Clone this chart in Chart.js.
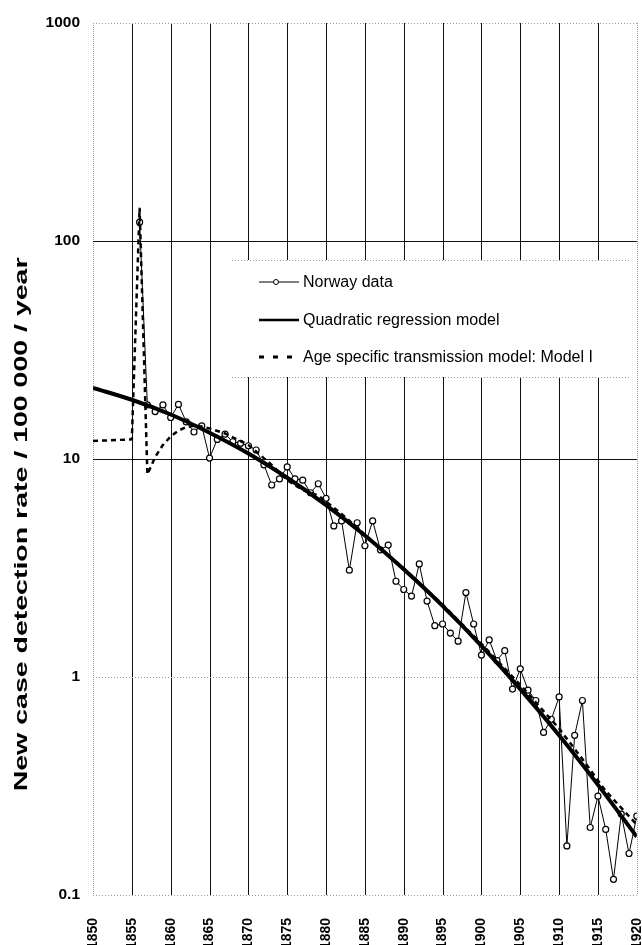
<!DOCTYPE html>
<html><head><meta charset="utf-8">
<script src="https://cdn.jsdelivr.net/npm/chart.js@4.4.0/dist/chart.umd.min.js"></script>
<style>html,body{margin:0;padding:0;overflow:hidden;background:#fff}#wrap{width:642px;height:960px;position:relative}</style>
</head><body><div id="wrap"><canvas id="c"></canvas></div>
<script>
const norwayYears = [1856,1857,1858,1859,1860,1861,1862,1863,1864,1865,1866,1867,1868,1869,1870,1871,1872,1873,1874,1875,1876,1877,1878,1879,1880,1881,1882,1883,1884,1885,1886,1887,1888,1889,1890,1891,1892,1893,1894,1895,1896,1897,1898,1899,1900,1901,1902,1903,1904,1905,1906,1907,1908,1909,1910,1911,1912,1913,1914,1915,1916,1917,1918,1919,1920];
const norwayRates = [122,17.7,16.5,17.7,15.5,17.8,14.8,13.3,14.2,10.1,12.3,13.0,12.0,11.8,11.5,11.0,9.4,7.6,8.1,9.2,8.1,8.0,7.0,7.7,6.6,4.93,5.2,3.09,5.1,4.0,5.2,3.83,4.03,2.75,2.52,2.35,3.30,2.23,1.72,1.75,1.59,1.46,2.44,1.75,1.26,1.48,1.19,1.32,0.88,1.09,0.87,0.78,0.557,0.64,0.81,0.168,0.54,0.78,0.204,0.284,0.20,0.118,0.235,0.155,0.23];
const regressionYears = [1850,1855,1860,1865,1870,1875,1880,1885,1890,1895,1900,1905,1910,1915,1920];
const regressionRates = [21.2,18.7,16.0,13.2,10.6,8.2,6.15,4.46,3.12,2.12,1.39,0.88,0.54,0.32,0.185];
const modelYears = [1850,1855,1856,1857,1858,1859,1860,1861,1862,1863,1864,1865,1867,1870,1873,1875,1877,1879,1882,1885,1890,1895,1900,1905,1910,1913,1916,1920];
const modelRates = [12.1,12.3,142,8.5,10.2,11.6,12.7,13.5,14.0,14.2,14.1,13.8,13.1,11.6,9.4,8.0,7.2,6.8,5.6,4.5,3.15,2.15,1.42,0.92,0.58,0.42,0.30,0.21];
const xTickYears = [1850,1855,1860,1865,1870,1875,1880,1885,1890,1895,1900,1905,1910,1915,1920];
const yTickValues = [0.1,1,10,100,1000];
const yTickLabels = ['0.1','1','10','100','1000'];
const seriesLabels = ['Norway data','Quadratic regression model','Age specific transmission model: Model I'];
const yAxisTitle = 'New case detection rate / 100 000 / year';

const FONT = '"Liberation Sans", Arial, sans-serif';
const pairs = (xs, ys) => xs.map((x, i) => ({x: x, y: ys[i]}));

const gridPlugin = {
  id: 'customGrid',
  beforeDatasetsDraw(chart) {
    const c = chart.ctx, a = chart.chartArea, xs = chart.scales.x, ys = chart.scales.y;
    c.save();
    xTickYears.forEach(yr => {
      const px = Math.round(xs.getPixelForValue(yr)) + 0.5;
      const edge = (yr === xTickYears[0] || yr === xTickYears[xTickYears.length - 1]);
      c.beginPath();
      c.lineWidth = 1;
      c.strokeStyle = edge ? '#9a9a9a' : '#111';
      c.setLineDash(edge ? [1, 1] : []);
      c.moveTo(px, a.top); c.lineTo(px, a.bottom); c.stroke();
    });
    yTickValues.forEach(v => {
      const py = Math.round(ys.getPixelForValue(v)) + 0.5;
      const strong = (v === 10 || v === 100);
      c.beginPath();
      c.lineWidth = strong ? 1.2 : 1;
      c.strokeStyle = strong ? '#111' : '#9a9a9a';
      c.setLineDash(strong ? [] : [1, 2]);
      c.moveTo(a.left, py); c.lineTo(a.right, py); c.stroke();
    });
    c.restore();
  }
};

const legendPlugin = {
  id: 'customLegend',
  afterDatasetsDraw(chart) {
    const c = chart.ctx, a = chart.chartArea;
    const bx = a.left + 139, by = a.top + 237, bw = 398, bh = 117;
    c.save();
    c.fillStyle = '#fff';
    c.fillRect(bx, by, bw, bh);
    c.strokeStyle = '#9a9a9a'; c.lineWidth = 1; c.setLineDash([1, 2]);
    c.beginPath(); c.moveTo(bx, by + 0.5); c.lineTo(bx + bw, by + 0.5); c.stroke();
    c.beginPath(); c.moveTo(bx, by + bh + 0.5); c.lineTo(bx + bw, by + bh + 0.5); c.stroke();
    const rows = [by + 22, by + 60, by + 97];
    const x0 = bx + 27, x1 = bx + 67;
    c.strokeStyle = '#000'; c.fillStyle = '#000';
    c.setLineDash([]); c.lineWidth = 1;
    c.beginPath(); c.moveTo(x0, rows[0]); c.lineTo(x1, rows[0]); c.stroke();
    c.beginPath(); c.arc(bx + 44, rows[0], 2.5, 0, Math.PI * 2); c.fillStyle = '#fff'; c.fill(); c.stroke();
    c.lineWidth = 2.5;
    c.beginPath(); c.moveTo(x0, rows[1]); c.lineTo(x1, rows[1]); c.stroke();
    c.lineWidth = 3; c.setLineDash([5, 9]);
    c.beginPath(); c.moveTo(x0, rows[2]); c.lineTo(x1, rows[2]); c.stroke();
    c.setLineDash([]);
    c.fillStyle = '#000';
    c.font = '16px ' + FONT; c.textAlign = 'left'; c.textBaseline = 'middle';
    seriesLabels.forEach((t, i) => c.fillText(t, x1 + 4, rows[i] + 1));
    c.restore();
  }
};

const titlePlugin = {
  id: 'yTitle',
  afterDraw(chart) {
    const c = chart.ctx, a = chart.chartArea;
    c.save();
    c.translate(22, a.top + (a.bottom - a.top) * 0.575);
    c.rotate(-Math.PI / 2);
    c.scale(1.5, 1);
    c.font = 'bold 19px ' + FONT;
    c.textAlign = 'center'; c.textBaseline = 'middle'; c.fillStyle = '#000';
    c.fillText(yAxisTitle, 0, 0);
    c.restore();
  }
};

new Chart(document.getElementById('c'), {
  type: 'line',
  data: {
    datasets: [
      {label: seriesLabels[0], data: pairs(norwayYears, norwayRates), borderColor: '#000', borderWidth: 1,
       pointRadius: 3, pointBackgroundColor: '#fff', pointBorderColor: '#000', pointBorderWidth: 1.2, tension: 0, order: 3},
      {label: seriesLabels[1], data: pairs(regressionYears, regressionRates), borderColor: '#000', borderWidth: 4,
       pointRadius: 0, cubicInterpolationMode: 'monotone', order: 1},
      {label: seriesLabels[2], data: pairs(modelYears, modelRates), borderColor: '#000', borderWidth: 2.5,
       borderDash: [5, 4], pointRadius: 0, tension: 0, order: 2}
    ]
  },
  options: {
    responsive: true, maintainAspectRatio: false, animation: false,
    layout: {padding: {top: 23, right: 5, left: 0, bottom: 0}},
    plugins: {legend: {display: false}, tooltip: {enabled: false}},
    scales: {
      x: {
        type: 'linear', min: 1850, max: 1920,
        grid: {display: false}, border: {display: false},
        afterBuildTicks: s => { s.ticks = xTickYears.map(v => ({value: v})); },
        ticks: {autoSkip: false, minRotation: 90, maxRotation: 90, padding: 15, color: '#000',
                font: {family: FONT, weight: 'bold', size: 14}, callback: v => String(v)},
        afterFit: s => { s.height = 65; s.paddingLeft = 0; s.paddingRight = 0; }
      },
      y: {
        type: 'logarithmic', min: 0.1, max: 1000,
        grid: {display: false}, border: {display: false},
        afterBuildTicks: s => { s.ticks = yTickValues.map(v => ({value: v})); },
        ticks: {padding: 5, color: '#000', font: {family: FONT, weight: 'bold', size: 15.5},
                callback: v => { const i = yTickValues.indexOf(v); return i >= 0 ? yTickLabels[i] : ''; }},
        afterFit: s => { s.width = 93; s.paddingTop = 0; s.paddingBottom = 0; }
      }
    }
  },
  plugins: [gridPlugin, legendPlugin, titlePlugin]
});
</script>
</body></html>
